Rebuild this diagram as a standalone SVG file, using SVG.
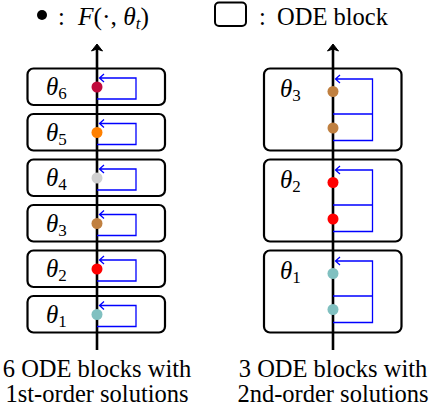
<svg xmlns="http://www.w3.org/2000/svg" width="430" height="406" viewBox="0 0 430 406">
<style>
.box{fill:#fff;stroke:#000;stroke-width:2.2}
.axis{stroke:#000;stroke-width:2.6;fill:none}
.loop{stroke:#0000ff;stroke-width:1.3;fill:none}
.t{font-family:"Liberation Serif","Times New Roman",serif;fill:#000}
.m{font-family:"Liberation Serif","Times New Roman",serif;font-style:italic;fill:#000}
</style>
<g id="legend">
<circle cx="42" cy="15" r="5" fill="#000"/>
<text class="t" x="58" y="25" font-size="24.5">:</text>
<text class="m" x="78" y="25" font-size="25.5">F<tspan font-style="normal">(·, </tspan>θ<tspan font-size="17" dy="4">t</tspan><tspan font-style="normal" dy="-4">)</tspan></text>
<rect x="215" y="2.5" width="31" height="23.5" rx="4" fill="none" stroke="#000" stroke-width="2"/>
<text class="t" x="259" y="25" font-size="24.5">:</text>
<text class="t" x="277" y="25" font-size="24.5">ODE block</text>
</g>
<g id="left-blocks">
<g id="L6"><rect class="box" x="27.5" y="68.5" width="137.5" height="36.5" rx="6"/><text class="m" x="46" y="95" font-size="25">θ<tspan font-style="normal" font-size="17" dy="4">6</tspan></text></g>
<g id="L5"><rect class="box" x="27.5" y="114" width="137.5" height="36.5" rx="6"/><text class="m" x="46" y="140.5" font-size="25">θ<tspan font-style="normal" font-size="17" dy="4">5</tspan></text></g>
<g id="L4"><rect class="box" x="27.5" y="159.5" width="137.5" height="36.5" rx="6"/><text class="m" x="46" y="186" font-size="25">θ<tspan font-style="normal" font-size="17" dy="4">4</tspan></text></g>
<g id="L3"><rect class="box" x="27.5" y="205" width="137.5" height="36.5" rx="6"/><text class="m" x="46" y="231.5" font-size="25">θ<tspan font-style="normal" font-size="17" dy="4">3</tspan></text></g>
<g id="L2"><rect class="box" x="27.5" y="250.5" width="137.5" height="36.5" rx="6"/><text class="m" x="46" y="277" font-size="25">θ<tspan font-style="normal" font-size="17" dy="4">2</tspan></text></g>
<g id="L1"><rect class="box" x="27.5" y="296" width="137.5" height="36.5" rx="6"/><text class="m" x="46" y="322.5" font-size="25">θ<tspan font-style="normal" font-size="17" dy="4">1</tspan></text></g>
</g>
<g id="right-blocks">
<g id="R3"><rect class="box" x="264" y="68.5" width="137.5" height="82" rx="6"/><text class="m" x="280" y="97" font-size="25">θ<tspan font-style="normal" font-size="17" dy="4">3</tspan></text></g>
<g id="R2"><rect class="box" x="264" y="159.5" width="137.5" height="82" rx="6"/><text class="m" x="280" y="188" font-size="25">θ<tspan font-style="normal" font-size="17" dy="4">2</tspan></text></g>
<g id="R1"><rect class="box" x="264" y="250.5" width="137.5" height="82" rx="6"/><text class="m" x="280" y="279" font-size="25">θ<tspan font-style="normal" font-size="17" dy="4">1</tspan></text></g>
</g>
<g id="connectors">
<line class="axis" x1="97" y1="48" x2="97" y2="350"/>
<path d="M97,44 L102.5,51 L97,49 L91.5,51 Z" fill="#000" stroke="#000" stroke-width="1" stroke-linejoin="round"/>
<line class="axis" x1="333" y1="48" x2="333" y2="350"/>
<path d="M333,44 L338.5,51 L333,49 L327.5,51 Z" fill="#000" stroke="#000" stroke-width="1" stroke-linejoin="round"/>
<g id="left-loops">
<path class="loop" d="M97,99 H136 V78 H99.5 M104,74 L99.5,78 L104,82"/>
<path class="loop" d="M97,144.5 H136 V123.5 H99.5 M104,119.5 L99.5,123.5 L104,127.5"/>
<path class="loop" d="M97,190 H136 V169 H99.5 M104,165 L99.5,169 L104,173"/>
<path class="loop" d="M97,235.5 H136 V214.5 H99.5 M104,210.5 L99.5,214.5 L104,218.5"/>
<path class="loop" d="M97,281 H136 V260 H99.5 M104,256 L99.5,260 L104,264"/>
<path class="loop" d="M97,326.5 H136 V305.5 H99.5 M104,301.5 L99.5,305.5 L104,309.5"/>
</g>
<g id="right-loops">
<path class="loop" d="M333,140.5 H372.5 V79 H335.5 M333,114 H372.5 M340,75 L335.5,79 L340,83"/>
<path class="loop" d="M333,231.5 H372.5 V170 H335.5 M333,205 H372.5 M340,166 L335.5,170 L340,174"/>
<path class="loop" d="M333,322.5 H372.5 V261 H335.5 M333,296 H372.5 M340,257 L335.5,261 L340,265"/>
</g>
</g>
<g id="dots">
<circle cx="97" cy="87" r="5.5" fill="#C00A3C"/>
<circle cx="97" cy="132.5" r="5.5" fill="#FF8000"/>
<circle cx="97" cy="178" r="5.5" fill="#D0D0D0"/>
<circle cx="97" cy="223.5" r="5.5" fill="#C08040"/>
<circle cx="97" cy="269" r="5.5" fill="#FF0000"/>
<circle cx="97" cy="314.5" r="5.5" fill="#80C0C0"/>
<circle cx="333" cy="91.5" r="5.5" fill="#C08040"/>
<circle cx="333" cy="128" r="5.5" fill="#C08040"/>
<circle cx="333" cy="182.5" r="5.5" fill="#FF0000"/>
<circle cx="333" cy="219" r="5.5" fill="#FF0000"/>
<circle cx="333" cy="273.5" r="5.5" fill="#80C0C0"/>
<circle cx="333" cy="309.5" r="5.5" fill="#80C0C0"/>
</g>
<g id="captions">
<text class="t" x="97" y="377" font-size="24.5" text-anchor="middle">6 ODE blocks with</text>
<text class="t" x="97" y="402" font-size="24.5" text-anchor="middle">1st-order solutions</text>
<text class="t" x="333" y="377" font-size="24.5" text-anchor="middle">3 ODE blocks with</text>
<text class="t" x="333" y="402" font-size="24.5" text-anchor="middle">2nd-order solutions</text>
</g>
</svg>
